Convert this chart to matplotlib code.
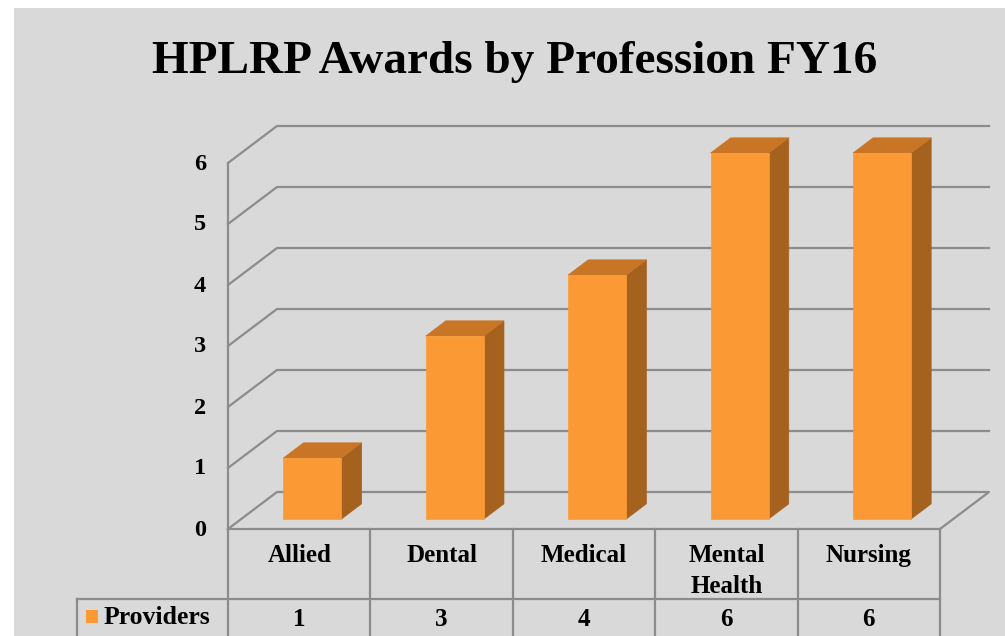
import matplotlib
matplotlib.use("Agg")
import matplotlib.pyplot as plt
from matplotlib.patches import Polygon, Rectangle
from matplotlib.lines import Line2D
from matplotlib.transforms import IdentityTransform

# data
categories = ["Allied", "Dental", "Medical", "Mental\nHealth", "Nursing"]
providers = [1, 3, 4, 6, 6]
series_name = "Providers"
yticks = [0, 1, 2, 3, 4, 5, 6]
title = "HPLRP Awards by Profession FY16"

W, H = 1005, 636
fig = plt.figure(figsize=(W / 100, H / 100), dpi=100)
fig.patch.set_facecolor("white")
fig.patches.append(Rectangle((14 / W, 0), 1, 1 - 8 / H, transform=fig.transFigure,
                             facecolor="#d9d9d9", edgecolor="none", zorder=0))

serif = "Liberation Serif"
grid_c = "#8c8c8c"
front_c = "#fb9a34"
top_c = "#c97526"
side_c = "#a5621f"

# front plane of the 3d box
ax = fig.add_axes([228 / W, (H - 529) / H, (940 - 228) / W, (529 - 163) / H])
ax.set_xlim(-0.5, len(categories) - 0.5)
ax.set_ylim(0, 6)
ax.axis("off")

DX, DY = 49, 37  # depth of the box in pixels
n = len(categories)


def px(x, v, d=0.0):
    p = ax.transData.transform((x, v))
    return (p[0] + d * DX, p[1] + d * DY)


ident = IdentityTransform()


def line(pts, **kw):
    xs = [p[0] for p in pts]
    ys = [p[1] for p in pts]
    fig.add_artist(Line2D(xs, ys, transform=ident, color=grid_c, lw=1.6, **kw))


# gridlines / walls
for v in yticks:
    pts = [px(-0.5, v), px(-0.5, v, 1), px(n - 0.5, v, 1)]
    if v == 0:
        pts += [px(n - 0.5, 0), px(-0.5, 0)]
    line(pts, zorder=1)
    x0, y0 = px(-0.5, v)
    fig.text((x0 - 22) / W, (y0 - 1) / H, str(v), ha="right", va="center",
             fontsize=17.5, fontweight="bold", family=serif)
line([px(-0.5, 0), px(-0.5, 6)], zorder=1)

# bars
d1, d2 = 0.27, 0.68
hw = 0.204
for i, v in enumerate(providers):
    front = [px(i - hw, 0, d1), px(i + hw, 0, d1), px(i + hw, v, d1), px(i - hw, v, d1)]
    side = [px(i + hw, 0, d1), px(i + hw, 0, d2), px(i + hw, v, d2), px(i + hw, v, d1)]
    top = [px(i - hw, v, d1), px(i + hw, v, d1), px(i + hw, v, d2), px(i - hw, v, d2)]
    for poly, c in ((side, side_c), (top, top_c), (front, front_c)):
        fig.add_artist(Polygon(poly, closed=True, transform=ident, facecolor=c,
                               edgecolor=c, lw=0.5, zorder=3))

# data table
y_top = px(0, 0)[1]
y_row = H - 599
for i in range(n + 1):
    x = px(i - 0.5, 0)[0]
    line([(x, y_top), (x, -5)], zorder=2)
line([(77, y_row), (px(n - 0.5, 0)[0], y_row)], zorder=2)
line([(77, y_row), (77, -5)], zorder=2)

for i, (cat, v) in enumerate(zip(categories, providers)):
    x = px(i, 0)[0]
    fig.text(x / W, (H - 544) / H, cat, ha="center", va="top", fontsize=18,
             fontweight="bold", family=serif, linespacing=1.45)
    fig.text(x / W, (H - 619) / H, str(v), ha="center", va="center", fontsize=18,
             fontweight="bold", family=serif)

fig.patches.append(Rectangle((86 / W, (H - 623) / H), 12 / W, 13 / H,
                             transform=fig.transFigure, facecolor=front_c,
                             edgecolor="none", zorder=3))
fig.text(104 / W, (H - 618) / H, series_name, ha="left", va="center", fontsize=18.5,
         fontweight="bold", family=serif)

fig.text(515 / W, (H - 73) / H, title, ha="center", va="baseline", fontsize=34,
         fontweight="bold", family=serif)

fig.savefig("out.png", dpi=100)
